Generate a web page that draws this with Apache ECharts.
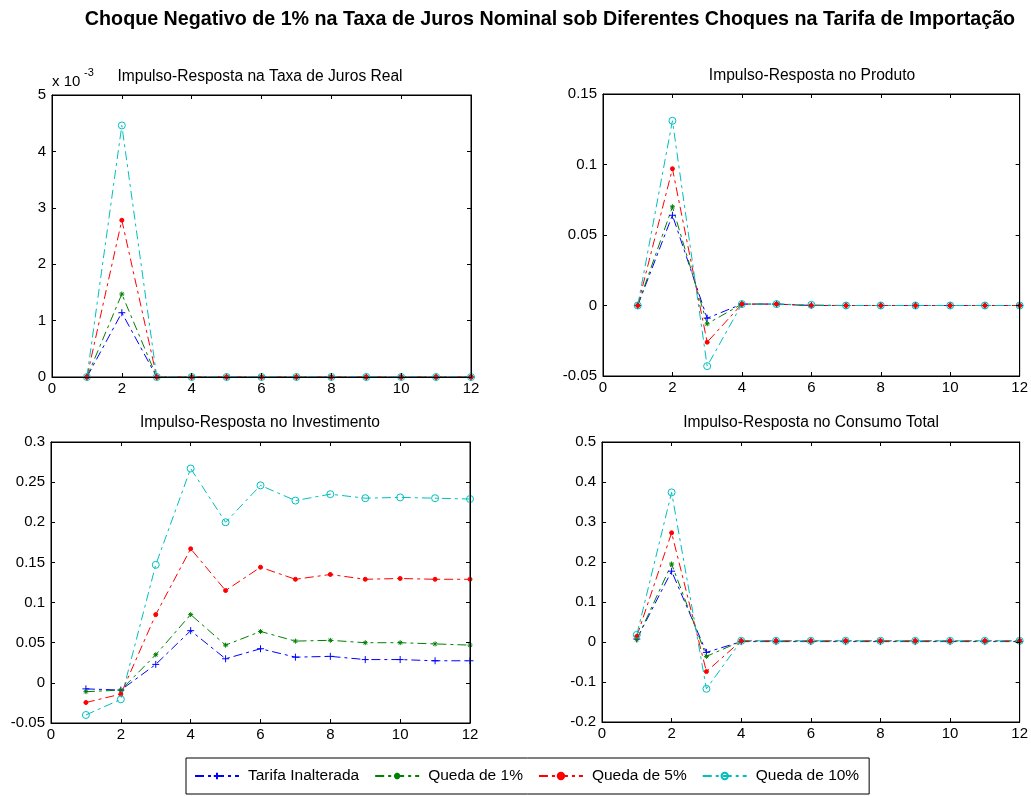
<!DOCTYPE html>
<html><head><meta charset="utf-8">
<script src="https://cdn.jsdelivr.net/npm/echarts@6/dist/echarts.min.js"></script>
<style>html,body{margin:0;padding:0;background:#fff}#c{width:1031px;height:796px}</style>
</head><body><div id="c"></div>
<script>
const periods = [1,2,3,4,5,6,7,8,9,10,11,12];
const seriesNames = ['Tarifa Inalterada','Queda de 1%','Queda de 5%','Queda de 10%'];
const panelTitles = ['Impulso-Resposta na Taxa de Juros Real','Impulso-Resposta no Produto','Impulso-Resposta no Investimento','Impulso-Resposta no Consumo Total'];
// Taxa de Juros Real (units of 10^-3)
const juros_inalterada = [0,1.14,0,0,0,0,0,0,0,0,0,0];
const juros_q1 = [0,1.47,0,0,0,0,0,0,0,0,0,0];
const juros_q5 = [0,2.78,0,0,0,0,0,0,0,0,0,0];
const juros_q10 = [0,4.46,0,0,0,0,0,0,0,0,0,0];
// Produto
const prod_inalterada = [0,0.064,-0.009,0.001,0.001,0,0,0,0,0,0,0];
const prod_q1 = [0,0.070,-0.013,0.001,0.001,0,0,0,0,0,0,0];
const prod_q5 = [0,0.097,-0.026,0.001,0.001,0,0,0,0,0,0,0];
const prod_q10 = [0,0.131,-0.043,0.001,0.001,0.0005,0,0,0,0,0,0];
// Investimento
const inv_inalterada = [-0.0075,-0.009,0.023,0.065,0.030,0.0425,0.032,0.033,0.029,0.029,0.0275,0.0275];
const inv_q1 = [-0.011,-0.009,0.035,0.085,0.047,0.064,0.052,0.053,0.050,0.050,0.0485,0.047];
const inv_q5 = [-0.0245,-0.014,0.085,0.167,0.115,0.144,0.129,0.135,0.129,0.130,0.129,0.129];
const inv_q10 = [-0.040,-0.0205,0.147,0.267,0.200,0.246,0.227,0.235,0.230,0.231,0.230,0.229];
// Consumo Total
const cons_inalterada = [0.0075,0.177,-0.026,0.001,0.001,0.001,0.001,0.001,0.001,0.001,0.001,0.001];
const cons_q1 = [0.006,0.195,-0.036,0.002,0.002,0.002,0.002,0.002,0.002,0.002,0.002,0.002];
const cons_q5 = [0.014,0.273,-0.074,0.003,0.003,0.003,0.003,0.003,0.003,0.003,0.003,0.003];
const cons_q10 = [0.018,0.374,-0.117,0.003,0.003,0.003,0.003,0.003,0.003,0.003,0.003,0.003];
const yMin = [0,-0.05,-0.05,-0.2];
const yMax = [5,0.15,0.3,0.5];
const yInterval = [1,0.05,0.05,0.1];

const panels = [
  [juros_inalterada,juros_q1,juros_q5,juros_q10],
  [prod_inalterada,prod_q1,prod_q5,prod_q10],
  [inv_inalterada,inv_q1,inv_q5,inv_q10],
  [cons_inalterada,cons_q1,cons_q5,cons_q10]
];
const colors = ['#0000ff','#008000','#ff0000','#00bfbf'];
const symbols = ['path://M0,-5L0,5M-5,0L5,0','path://M0,-5L0,5M-5,0L5,0M-3.5,-3.5L3.5,3.5M-3.5,3.5L3.5,-3.5','circle','circle'];
const symSizes = [7,5,4,7];
const grids = [
  {left:52,top:95,width:419,height:282},
  {left:603,top:94,width:420,height:282},
  {left:51,top:442,width:419,height:281},
  {left:602,top:442,width:420,height:280}
];
const font = 'Liberation Sans, Arial, sans-serif';
const fs = 15;
const xAxes=[], yAxes=[], series=[];
const tick = {inside:true,length:4,lineStyle:{color:'#000'}};
const aline = {show:true,onZero:false,lineStyle:{color:'#000'}};
grids.forEach((g,i)=>{
  g.show=true; g.borderColor='#000'; g.borderWidth=1; g.backgroundColor='#fff';
  xAxes.push({type:'value',gridIndex:i,min:0,max:12,interval:2,position:'bottom',z:5,
    axisLine:aline,axisTick:tick,
    axisLabel:{color:'#000',fontSize:fs,fontFamily:font,margin:4},splitLine:{show:false}});
  xAxes.push({type:'value',gridIndex:i,min:0,max:12,interval:2,position:'top',z:5,
    axisLine:aline,axisTick:tick,
    axisLabel:{show:false},splitLine:{show:false}});
  yAxes.push({type:'value',gridIndex:i,min:yMin[i],max:yMax[i],interval:yInterval[i],position:'left',z:5,
    axisLine:aline,axisTick:tick,
    axisLabel:{color:'#000',fontSize:fs,fontFamily:font,margin:6},splitLine:{show:false}});
  yAxes.push({type:'value',gridIndex:i,min:yMin[i],max:yMax[i],interval:yInterval[i],position:'right',z:5,
    axisLine:aline,axisTick:tick,
    axisLabel:{show:false},splitLine:{show:false}});
  panels[i].forEach((vals,k)=>{
    series.push({name:seriesNames[k],type:'line',xAxisIndex:2*i,yAxisIndex:2*i,z:3,
      data:periods.map((p,j)=>[p,vals[j]]),
      symbol:symbols[k],symbolSize:symSizes[k],showAllSymbol:true,animation:false,
      lineStyle:{color:colors[k],width:1,type:[9,4,3,4]},
      itemStyle:{color:k===3?'rgba(0,0,0,0)':colors[k],borderColor:colors[k],borderWidth:1}});
  });
});
const t = (x,y,text,f,align)=>({type:'text',x:x,y:y,z:10,style:{text:text,font:f,fill:'#000',textAlign:align||'center',textVerticalAlign:'middle'}});
const tf = '15.6px '+font;
const graphics = [
  t(550,20,'Choque Negativo de 1% na Taxa de Juros Nominal sob Diferentes Choques na Tarifa de Importação','bold 19.7px '+font),
  t(260,77,panelTitles[0],tf),
  t(812,76,panelTitles[1],tf),
  t(260,423,panelTitles[2],tf),
  t(811,423,panelTitles[3],tf),
  t(52,82,'x 10',fs+'px '+font,'left'),
  t(84,73,'-3',(fs-4)+'px '+font,'left')
];
const chart = echarts.init(document.getElementById('c'),null,{renderer:'canvas'});
chart.setOption({
  animation:false,
  backgroundColor:'#fff',
  grid:grids,xAxis:xAxes,yAxis:yAxes,series:series,graphic:graphics,
  legend:{data:seriesNames,left:186,top:758,width:682,height:37,padding:[10,10,10,8],
    borderColor:'#000',borderWidth:1,backgroundColor:'#fff',itemWidth:44,itemHeight:8,itemGap:15,
    textStyle:{color:'#000',fontSize:15.5,fontFamily:font,padding:[0,0,0,4]}}
});
</script></body></html>
